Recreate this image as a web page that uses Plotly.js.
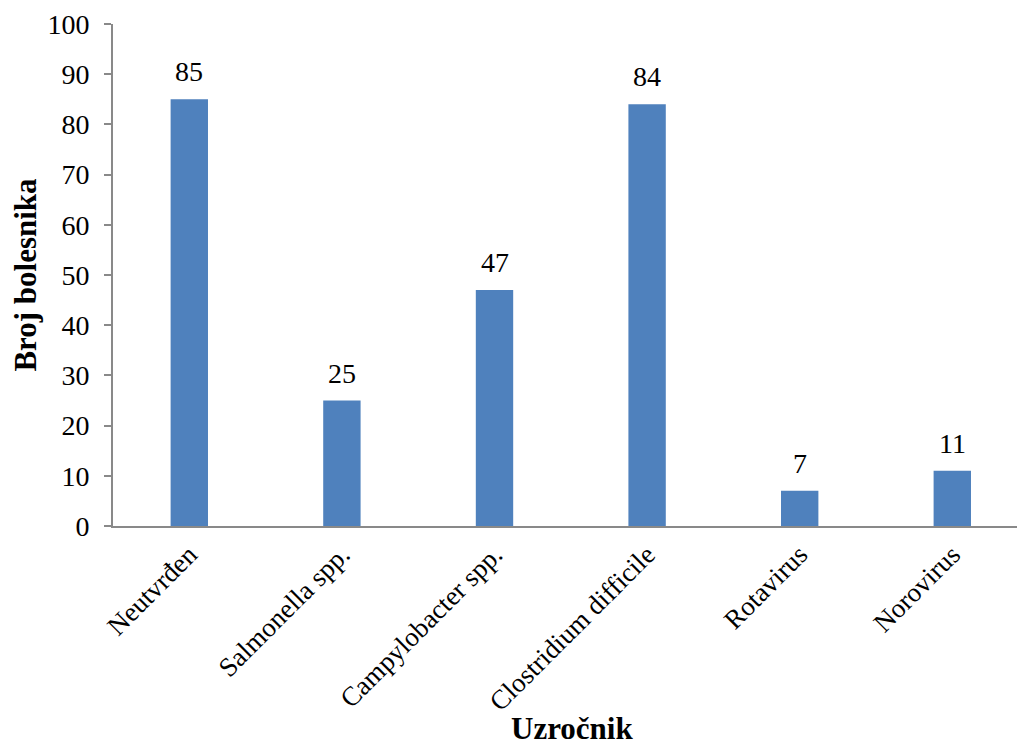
<!DOCTYPE html>
<html>
<head>
<meta charset="utf-8">
<script src="https://cdn.plot.ly/plotly-3.0.1.min.js"></script>
<style>html,body{margin:0;padding:0;background:#fff;}#chart{width:1017px;height:748px;}</style>
</head>
<body>
<div id="chart"></div>
<script>
const categories = ["Neutvrđen", "Salmonella spp.", "Campylobacter spp.", "Clostridium difficile", "Rotavirus", "Norovirus"];
const values = [85, 25, 47, 84, 7, 11];
const yTicks = [0, 10, 20, 30, 40, 50, 60, 70, 80, 90, 100];

const font = '"Liberation Serif", "Times New Roman", serif';

const trace = {
  type: "bar",
  x: categories,
  y: values,
  width: 0.245,
  marker: {color: "#4F81BD", line: {color: "#4F81BD", width: 0}},
  hoverinfo: "none"
};

const annotations = categories.map((c, i) => ({
  x: c, y: values[i], xref: "x", yref: "y",
  text: String(values[i]),
  showarrow: false, yanchor: "bottom", yshift: 10,
  font: {family: font, size: 28, color: "#000"}
}));
annotations.push({
  xref: "paper", yref: "paper", x: 0.508, y: -0.404,
  xanchor: "center", yanchor: "middle", showarrow: false,
  text: "Uzročnik",
  font: {family: font, size: 31, color: "#000", weight: "bold"}
});

const layout = {
  width: 1017, height: 748,
  margin: {l: 113, r: 0, t: 24, b: 222},
  paper_bgcolor: "#fff", plot_bgcolor: "#fff",
  showlegend: false,
  font: {family: font, color: "#000"},
  xaxis: {
    type: "category",
    range: [-0.5, 5.424],
    showline: true, linecolor: "#898989", linewidth: 2,
    ticks: "", showgrid: false, zeroline: false,
    tickangle: -45,
    tickfont: {family: font, size: 27, color: "#000"}
  },
  yaxis: {
    range: [0, 100],
    tickvals: yTicks,
    ticktext: yTicks.map(String),
    showline: true, linecolor: "#898989", linewidth: 2,
    ticks: "outside", ticklen: 7, tickwidth: 2, tickcolor: "#898989",
    ticklabelstandoff: 9,
    showgrid: false, zeroline: false,
    tickfont: {family: font, size: 28, color: "#000"},
    title: {text: "Broj bolesnika", font: {family: font, size: 31, color: "#000", weight: "bold"}, standoff: 2}
  },
  annotations: annotations
};

Plotly.newPlot("chart", [trace], layout, {displayModeBar: false, staticPlot: true});
</script>
</body>
</html>
